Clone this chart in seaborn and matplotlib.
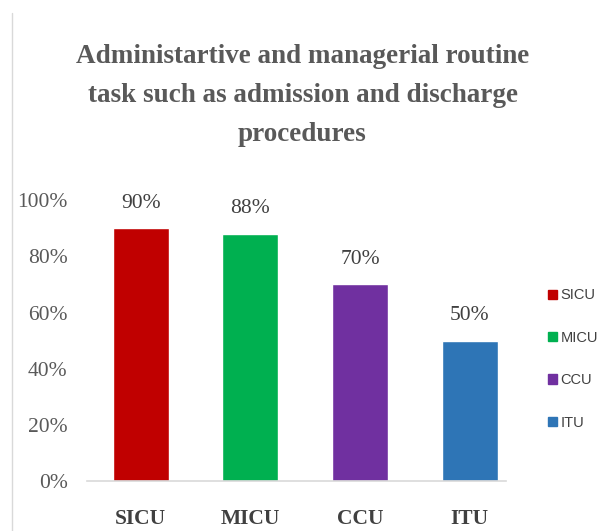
import matplotlib
matplotlib.use('Agg')
import matplotlib.pyplot as plt
import seaborn as sns
import pandas as pd
from matplotlib.lines import Line2D

# chart data
units = ['SICU', 'MICU', 'CCU', 'ITU']
values = [0.90, 0.88, 0.70, 0.50]
value_labels = ['90%', '88%', '70%', '50%']
yticks = [0, 0.2, 0.4, 0.6, 0.8, 1.0]
ytick_labels = ['0%', '20%', '40%', '60%', '80%', '100%']
colors = ['#C00000', '#00B050', '#7030A0', '#2E75B6']

df = pd.DataFrame({'unit': units, 'value': values})

sns.set_style('white')
plt.rcParams['font.family'] = ['Liberation Serif', 'DejaVu Serif']

fig = plt.figure(figsize=(6.05, 5.31), dpi=100)
ax = fig.add_axes([0.144, 0.094, 0.692, 0.529])

sns.barplot(data=df, x='unit', y='value', hue='unit', palette=colors,
            saturation=1, dodge=False, width=0.51, legend=False, ax=ax)

ax.set_ylim(0, 1.0)
ax.set_xlim(-0.49, 3.33)
ax.set_yticks(yticks)
ax.set_yticklabels(ytick_labels, fontsize=15.5, color='#595959')
ax.set_xticks(range(len(units)))
ax.set_xticklabels(units, fontsize=15.5, fontweight='bold', color='#404040')
ax.tick_params(axis='both', length=0)
ax.tick_params(axis='y', pad=14)
ax.tick_params(axis='x', pad=20)
ax.set_xlabel('')
ax.set_ylabel('')
for s in ['top', 'right', 'left']:
    ax.spines[s].set_visible(False)
ax.spines['bottom'].set_color('#D9D9D9')
ax.spines['bottom'].set_linewidth(1.2)

for i, (v, lab) in enumerate(zip(values, value_labels)):
    ax.text(i, v + 0.055, lab, ha='center', va='bottom', fontsize=15.5, color='#404040')

fig.text(0.5, 0.82, 'Administartive and managerial routine\n'
         'task such as admission and discharge\nprocedures',
         ha='center', va='center', fontsize=19.5, fontweight='bold',
         color='#595959', linespacing=1.75)

handles = [plt.Rectangle((0, 0), 1, 1, color=c) for c in colors]
leg = fig.legend(handles, units, loc='center left', bbox_to_anchor=(0.884, 0.324),
                 frameon=False, handlelength=0.6, handleheight=0.6,
                 handletextpad=0.25, labelspacing=1.95,
                 prop={'family': ['Liberation Sans Narrow', 'Liberation Sans'], 'size': 10.5})
for t in leg.get_texts():
    t.set_color('#404040')

# thin frame line at the left edge
fig.add_artist(Line2D([0.02, 0.02], [0.0, 0.975], transform=fig.transFigure,
                      color='#D9D9D9', linewidth=1))

fig.savefig('out.png', dpi=100)
